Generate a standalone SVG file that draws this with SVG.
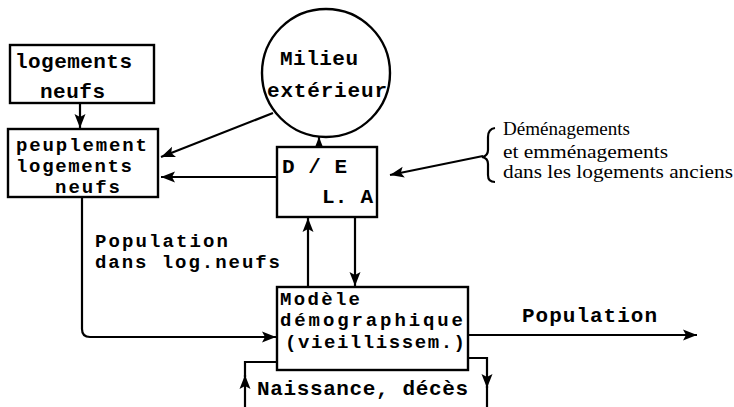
<svg xmlns="http://www.w3.org/2000/svg" width="734" height="407" viewBox="0 0 734 407">
<defs>
<marker id="ah" markerUnits="userSpaceOnUse" markerWidth="16" markerHeight="12" refX="14" refY="6" orient="auto">
<path d="M0,0.5 L14,6 L0,11.5 L3,6 Z" fill="#000"/>
</marker>
<style>
.box{fill:#fff;stroke:#000;stroke-width:2.4}
.ln{fill:none;stroke:#000;stroke-width:2.2}
.t{font-family:"Liberation Mono","DejaVu Sans Mono",monospace;font-weight:bold;font-size:21px;fill:#000}
.c{font-size:19px}
.s{font-family:"Liberation Serif","Times New Roman",serif;font-size:19px;fill:#000}
</style>
</defs>
<rect width="734" height="407" fill="#fff"/>
<g id="connectors">
<path class="ln" d="M80,103 L80,128" marker-end="url(#ah)"/>
<path class="ln" d="M273,113 L161,157" marker-end="url(#ah)"/>
<path class="ln" d="M277,177 L161,177" marker-end="url(#ah)"/>
<path class="ln" d="M483,156 L390,175" marker-end="url(#ah)"/>
<path class="ln" d="M319,147 L319,137" marker-end="url(#ah)"/>
<path class="ln" d="M308,287 L308,218" marker-end="url(#ah)"/>
<path class="ln" d="M355,217 L355,286" marker-end="url(#ah)"/>
<path class="ln" d="M82,197 L82,329 Q82,337 90,337 L276,337" marker-end="url(#ah)"/>
<path class="ln" d="M468,335 L697,335" marker-end="url(#ah)"/>
<path class="ln" d="M245,407 L245,375" marker-end="url(#ah)"/>
<path class="ln" d="M245,377 L245,362 L277,362"/>
<path class="ln" d="M468,358 L487,358 L487,388" marker-end="url(#ah)"/>
<path class="ln" d="M487,386 L487,407"/>
<path class="ln" d="M495,128 Q488,129 488,137 L488,150 Q488,156 482,157 Q488,158 488,164 L488,175 Q488,182 495,182"/>
</g>
<g id="logements-neufs">
<rect class="box" x="10" y="45" width="144" height="58"/>
<text class="t" x="15" y="68" textLength="117" lengthAdjust="spacing">logements</text>
<text class="t" x="40" y="98" textLength="65" lengthAdjust="spacing">neufs</text>
</g>
<g id="peuplement">
<rect class="box" x="8" y="129" width="150" height="68"/>
<text class="t c" x="16" y="151" textLength="131" lengthAdjust="spacing">peuplement</text>
<text class="t c" x="16" y="172" textLength="116" lengthAdjust="spacing">logements</text>
<text class="t c" x="55" y="193" textLength="65" lengthAdjust="spacing">neufs</text>
</g>
<g id="milieu">
<circle class="box" cx="326" cy="73" r="64"/>
<text class="t" x="280" y="65" textLength="78" lengthAdjust="spacing">Milieu</text>
<text class="t" x="267" y="97" textLength="120" lengthAdjust="spacing">extérieur</text>
</g>
<g id="de-la">
<rect class="box" x="277" y="147" width="100" height="70"/>
<text class="t" x="282" y="173" textLength="65" lengthAdjust="spacing">D / E</text>
<text class="t" x="322" y="203" textLength="51" lengthAdjust="spacing">L. A</text>
</g>
<g id="demenagements">
<text class="s" x="503" y="135" textLength="127" lengthAdjust="spacingAndGlyphs">Déménagements</text>
<text class="s" x="503" y="158" textLength="165" lengthAdjust="spacingAndGlyphs">et emménagements</text>
<text class="s" x="503" y="178" textLength="230" lengthAdjust="spacingAndGlyphs">dans les logements anciens</text>
</g>
<g id="modele">
<rect class="box" x="277" y="287" width="191" height="83"/>
<text class="t c" x="280" y="305" textLength="80" lengthAdjust="spacing">Modèle</text>
<text class="t c" x="280" y="326" textLength="183" lengthAdjust="spacing">démographique</text>
<text class="t c" x="285" y="348" textLength="180" lengthAdjust="spacing">(vieillissem.)</text>
</g>
<g id="labels">
<text class="t c" x="95" y="247" textLength="133" lengthAdjust="spacing">Population</text>
<text class="t c" x="95" y="268" textLength="185" lengthAdjust="spacing">dans log.neufs</text>
<text class="t" x="522" y="322" textLength="135" lengthAdjust="spacing">Population</text>
<text class="t" x="257" y="395" textLength="211" lengthAdjust="spacing">Naissance, décès</text>
</g>
</svg>
